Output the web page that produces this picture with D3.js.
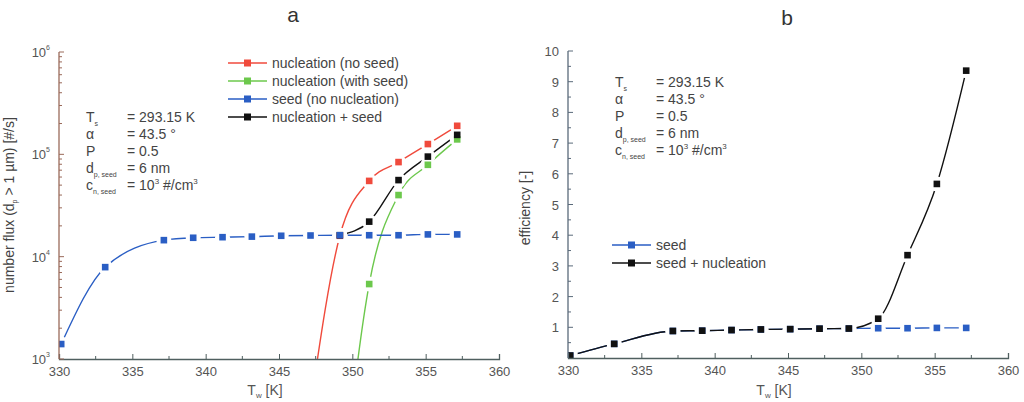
<!DOCTYPE html>
<html>
<head>
<meta charset="utf-8">
<script src="https://cdn.jsdelivr.net/npm/d3@7"></script>
<style>
  body { margin: 0; background: #fff; }
  svg { font-family: "Liberation Sans", Arial, sans-serif; }
</style>
</head>
<body>
<svg width="1024" height="402"></svg>
<script>
// wall temperatures of the simulated points [K]
const temps = [330.15, 333.15, 337.15, 339.15, 341.15, 343.15, 345.15, 347.15, 349.15, 351.15, 353.15, 355.15, 357.15];

// panel a: number flux [#/s]
const seedFlux = [1400, 7900, 14500, 15300, 15500, 15700, 16000, 16100, 16200, 16200, 16200, 16500, 16500];
const noSeedT = [347.15, 349.15, 351.15, 353.15, 355.15, 357.15];
const noSeedFlux = [350, 16000, 55000, 84000, 126000, 190000];
const withSeedT = [349.15, 351.15, 353.15, 355.15, 357.15];
const withSeedFlux = [30, 5400, 40000, 79000, 140000];
const bothT = [349.15, 351.15, 353.15, 355.15, 357.15];
const bothFlux = [16200, 22000, 56000, 95000, 155000];

// panel b: efficiency [-]
const effSeed = [0.08, 0.46, 0.88, 0.89, 0.91, 0.93, 0.94, 0.955, 0.96, 0.97, 0.97, 0.98, 0.98];
const effSeedNuc = [0.08, 0.46, 0.88, 0.89, 0.91, 0.93, 0.94, 0.955, 0.96, 1.28, 3.35, 5.67, 9.36];

const xTicks = [330, 335, 340, 345, 350, 355, 360];
const logTicks = [1e3, 1e4, 1e5, 1e6];
const effTicks = [1, 2, 3, 4, 5, 6, 7, 8, 9, 10];

const red = "#f04a3c", green = "#6cc84c", blue = "#2a5ec4", black = "#111";
const axisCol = "#4f5f5f", textCol = "#555";

const svg = d3.select("svg");
const zip = (xs, ys) => xs.map((x, i) => [x, ys[i]]);

function drawPanel(o) {
  const x = d3.scaleLinear().domain([330, 360]).range([o.left, o.right]);
  const y = o.y;
  const g = svg.append("g");

  g.append("clipPath").attr("id", o.id + "-clip")
    .append("rect")
    .attr("x", o.left).attr("y", o.top - 2)
    .attr("width", o.right - o.left + 2).attr("height", o.bottom - o.top + 2);

  const plot = g.append("g").attr("clip-path", `url(#${o.id}-clip)`);
  const line = d3.line().x(d => x(d[0])).y(d => y(d[1])).curve(d3.curveMonotoneX);

  o.series.forEach(s => {
    plot.append("path").datum(s.pts)
      .attr("d", line).attr("fill", "none")
      .attr("stroke", s.color).attr("stroke-width", 1.4);
  });
  // white gap round each marker, as the original plot has
  o.series.forEach(s => {
    plot.selectAll(null).data(s.pts).join("circle")
      .attr("cx", d => x(d[0])).attr("cy", d => y(d[1]))
      .attr("r", 7.5).attr("fill", "#fff");
  });
  o.series.forEach(s => {
    plot.selectAll(null).data(s.pts).join("rect")
      .attr("x", d => x(d[0]) - 3.3).attr("y", d => y(d[1]) - 3.3)
      .attr("width", 6.6).attr("height", 6.6).attr("fill", s.color);
  });

  // x axis, ticks pointing inward
  const xa = g.append("g").attr("transform", `translate(0,${o.bottom})`)
    .call(d3.axisBottom(x).tickValues(xTicks).tickSize(-5).tickPadding(8).tickFormat(d3.format("d")));
  xa.select(".domain").attr("stroke", axisCol).attr("stroke-width", 1.3);
  xa.selectAll(".tick line").attr("stroke", axisCol);
  xa.selectAll("text").attr("font-size", 13).attr("fill", textCol).attr("font-family", null);
  g.selectAll(null).data(d3.range(332.5, 360, 5)).join("line")
    .attr("x1", d => x(d)).attr("x2", d => x(d))
    .attr("y1", o.bottom).attr("y2", o.bottom - 3).attr("stroke", axisCol);

  // y axis
  g.append("line").attr("x1", o.left).attr("x2", o.left)
    .attr("y1", o.top).attr("y2", o.bottom).attr("stroke", o.yAxisCol).attr("stroke-width", 1.3);
  g.selectAll(null).data(o.major).join("line")
    .attr("x1", o.left).attr("x2", o.left + 5)
    .attr("y1", d => y(d)).attr("y2", d => y(d)).attr("stroke", o.yAxisCol);
  g.selectAll(null).data(o.minor).join("line")
    .attr("x1", o.left).attr("x2", o.left + 3)
    .attr("y1", d => y(d)).attr("y2", d => y(d)).attr("stroke", o.yAxisCol);
  o.yLabels(g, x, y);

  // axis titles
  const xt = g.append("text").attr("x", x(345) - 14).attr("y", 395)
    .attr("text-anchor", "middle").attr("font-size", 14).attr("fill", textCol);
  xt.append("tspan").text("T");
  xt.append("tspan").attr("font-size", 8).attr("dy", 3).text("w");
  xt.append("tspan").attr("dy", -3).text("   [K]");

  g.append("text").attr("x", o.titleX).attr("y", o.titleY)
    .attr("text-anchor", "middle").attr("font-size", 21).attr("fill", "#333").text(o.title);

  // parameter box
  const params = [
    ["T", "s", "= 293.15 K"],
    ["\u03b1", "", "= 43.5 \u00b0"],
    ["P", "", "= 0.5"],
    ["d", "p, seed", "= 6 nm"],
    ["c", "n, seed", "= 10|3| #/cm|3"]
  ];
  params.forEach((p, i) => {
    const ty = o.parY + i * 17;
    const t = g.append("text").attr("x", o.parX).attr("y", ty).attr("font-size", 14).attr("fill", "#444");
    t.append("tspan").text(p[0]);
    if (p[1]) t.append("tspan").attr("font-size", 7).attr("dy", 4).text(p[1]);
    const v = g.append("text").attr("x", o.parX + 41).attr("y", ty).attr("font-size", 14).attr("fill", "#444");
    p[2].split("|").forEach((part, k) => {
      if (k % 2) v.append("tspan").attr("font-size", 8).attr("dy", -6).text(part);
      else v.append("tspan").attr("dy", k ? 6 : 0).text(part);
    });
  });

  // legend
  o.legend.forEach((l, i) => {
    const ly = o.legY + i * 18;
    g.append("line").attr("x1", o.legX).attr("x2", o.legX + 39)
      .attr("y1", ly).attr("y2", ly).attr("stroke", l.color).attr("stroke-width", 1.5);
    g.append("rect").attr("x", o.legX + 16).attr("y", ly - 3.5)
      .attr("width", 7).attr("height", 7).attr("fill", l.color);
    g.append("text").attr("x", o.legX + 44).attr("y", ly + 5)
      .attr("font-size", 14).attr("fill", "#444").text(l.name);
  });
}

// panel a
const yLog = d3.scaleLog().domain([1e3, 1e6]).range([359, 52]);
const minorLog = [];
[1e3, 1e4, 1e5].forEach(dec => d3.range(2, 10).forEach(m => minorLog.push(dec * m)));

drawPanel({
  id: "a", left: 59, right: 499, top: 52, bottom: 359, y: yLog, yAxisCol: "#9a6a5a",
  major: logTicks, minor: minorLog,
  title: "a", titleX: 293, titleY: 22,
  parX: 86, parY: 122,
  legX: 228, legY: 63,
  series: [
    { color: red, pts: zip(noSeedT, noSeedFlux) },
    { color: green, pts: zip(withSeedT, withSeedFlux) },
    { color: black, pts: zip(bothT, bothFlux) },
    { color: blue, pts: zip(temps, seedFlux) }
  ],
  legend: [
    { name: "nucleation (no seed)", color: red },
    { name: "nucleation (with seed)", color: green },
    { name: "seed (no nucleation)", color: blue },
    { name: "nucleation + seed", color: black }
  ],
  yLabels: (g, x, y) => {
    logTicks.forEach(v => {
      const t = g.append("text").attr("x", 50).attr("y", y(v) + 5)
        .attr("text-anchor", "end").attr("font-size", 13).attr("fill", textCol);
      t.append("tspan").text("10");
      t.append("tspan").attr("font-size", 7).attr("dy", -7).text(Math.round(Math.log10(v)));
    });
    const t = g.append("text").attr("transform", "translate(14,205) rotate(-90)")
      .attr("text-anchor", "middle").attr("font-size", 14).attr("fill", "#444");
    t.append("tspan").text("number flux (d");
    t.append("tspan").attr("font-size", 7).attr("dy", 3).text("p");
    t.append("tspan").attr("dy", -3).text(" > 1 \u00b5m)   [#/s]");
  }
});

// panel b
const yLin = d3.scaleLinear().domain([0, 10]).range([358, 51]);
drawPanel({
  id: "b", left: 568, right: 1008, top: 51, bottom: 358, y: yLin, yAxisCol: "#5a6a7a",
  major: effTicks, minor: d3.range(0.5, 10, 1),
  title: "b", titleX: 787, titleY: 25,
  parX: 615, parY: 87,
  legX: 612, legY: 245,
  series: [
    { color: blue, pts: zip(temps, effSeed) },
    { color: black, pts: zip(temps, effSeedNuc) }
  ],
  legend: [
    { name: "seed", color: blue },
    { name: "seed + nucleation", color: black }
  ],
  yLabels: (g, x, y) => {
    effTicks.forEach(v => {
      g.append("text").attr("x", 559).attr("y", y(v) + 5)
        .attr("text-anchor", "end").attr("font-size", 13).attr("fill", textCol).text(v);
    });
    g.append("text").attr("transform", "translate(530,208) rotate(-90)")
      .attr("text-anchor", "middle").attr("font-size", 14).attr("fill", "#444")
      .text("efficiency  [-]");
  }
});
</script>
</body>
</html>
